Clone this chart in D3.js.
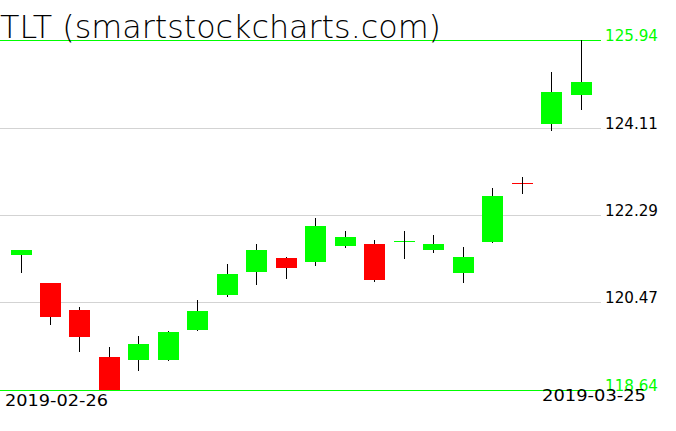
<!DOCTYPE html>
<html>
<head>
<meta charset="utf-8">
<script src="https://cdn.jsdelivr.net/npm/d3@7"></script>
<style>
html,body{margin:0;padding:0;background:#fff;}
svg{display:block;}
text{font-family:"DejaVu Sans",sans-serif;}
</style>
</head>
<body>
<svg id="chart" width="676" height="431"></svg>
<script>
const dates = ["2019-02-26","2019-02-27","2019-02-28","2019-03-01","2019-03-04","2019-03-05","2019-03-06","2019-03-07","2019-03-08","2019-03-11","2019-03-12","2019-03-13","2019-03-14","2019-03-15","2019-03-18","2019-03-19","2019-03-20","2019-03-21","2019-03-22","2019-03-25"];
const opens  = [121.46,120.87,120.31,119.33,119.27,119.27,119.90,120.62,121.11,121.39,121.30,121.65,121.69,121.74,121.55,121.07,121.73,122.96,124.19,124.80];
const highs  = [121.57,120.88,120.37,119.54,119.77,119.87,120.52,121.27,121.69,121.41,122.23,121.96,121.77,121.96,121.87,121.62,122.85,123.08,125.27,125.94];
const lows   = [121.09,120.00,119.44,118.64,119.04,119.25,119.88,120.59,120.84,120.96,121.23,121.61,120.90,121.38,121.50,120.88,121.71,122.73,124.05,124.49];
const closes = [121.56,120.17,119.75,118.64,119.60,119.85,120.29,121.06,121.56,121.19,122.06,121.83,120.94,121.75,121.69,121.41,122.69,122.95,124.86,125.06];
const yTicks = [118.64,120.47,122.29,124.11,125.94];
const title = "TLT (smartstockcharts.com)";

const svg = d3.select("#chart");
const GREEN = "#00ff00", RED = "#ff0000";

const x = d3.scalePoint().domain(dates).range([20.5, 580.5]);
const y = d3.scaleLinear().domain([118.64, 125.94]).range([390, 40]);
const bodyW = 21;

// gridlines
const minV = d3.min(yTicks), maxV = d3.max(yTicks);
svg.append("g").selectAll("line").data(yTicks).join("line")
  .attr("x1", 0).attr("x2", 601)
  .attr("y1", d => Math.round(y(d)) + 0.5).attr("y2", d => Math.round(y(d)) + 0.5)
  .attr("stroke", d => (d === minV || d === maxV) ? GREEN : "#d3d3d3")
  .attr("stroke-width", 1);

// y labels
svg.append("g").selectAll("text").data(yTicks).join("text")
  .attr("x", 605).attr("y", d => Math.round(y(d)) + 1)
  .attr("font-size", 15)
  .attr("textLength", 53).attr("lengthAdjust", "spacingAndGlyphs")
  .attr("fill", d => (d === minV || d === maxV) ? GREEN : "#000")
  .text(d => d.toFixed(2));

const data = dates.map((d, i) => ({d, o: opens[i], h: highs[i], l: lows[i], c: closes[i]}));
const g = svg.append("g");
data.forEach(k => {
  const cx = Math.round(x(k.d));
  const up = k.c >= k.o;
  const col = up ? GREEN : RED;
  const top = Math.round(y(Math.max(k.o, k.c)));
  const bot = Math.round(y(Math.min(k.o, k.c)));
  const hy = Math.round(y(k.h)), ly = Math.round(y(k.l));
  if (bot - top < 2) {
    g.append("line").attr("x1", cx - 10).attr("x2", cx + 11)
      .attr("y1", top + 0.5).attr("y2", top + 0.5)
      .attr("stroke", col).attr("stroke-width", 1);
    g.append("line").attr("x1", cx + 0.5).attr("x2", cx + 0.5)
      .attr("y1", hy).attr("y2", ly).attr("stroke", "#000").attr("stroke-width", 1);
  } else {
    g.append("line").attr("x1", cx + 0.5).attr("x2", cx + 0.5)
      .attr("y1", hy).attr("y2", ly).attr("stroke", "#000").attr("stroke-width", 1);
    g.append("rect").attr("x", cx - 10).attr("width", bodyW)
      .attr("y", top).attr("height", bot - top).attr("fill", col);
  }
});

// title
svg.append("text").attr("x", 0).attr("y", 38)
  .attr("font-size", 32).attr("font-weight", 200)
  .attr("textLength", 441).attr("lengthAdjust", "spacingAndGlyphs")
  .attr("fill", "#000").text(title);

// date labels
svg.append("text").attr("x", 5).attr("y", 406)
  .attr("font-size", 15).attr("textLength", 103).attr("lengthAdjust", "spacingAndGlyphs")
  .attr("fill", "#000").text(dates[0]);
svg.append("text").attr("x", 542).attr("y", 401)
  .attr("font-size", 15).attr("textLength", 104).attr("lengthAdjust", "spacingAndGlyphs")
  .attr("fill", "#000").text(dates[dates.length - 1]);
</script>
</body>
</html>
